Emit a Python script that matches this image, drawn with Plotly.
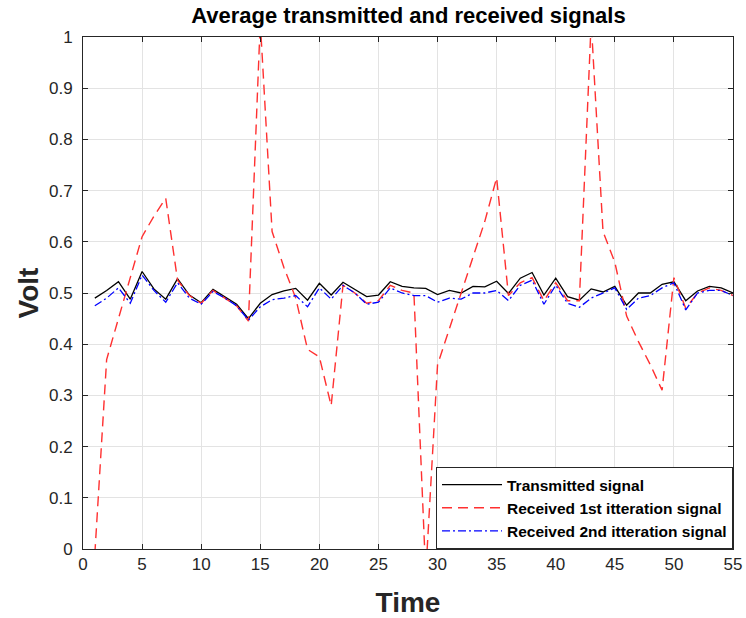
import plotly.graph_objects as go

time = list(range(1, 56))

transmitted = [0.490, 0.505, 0.522, 0.488, 0.542, 0.508, 0.488, 0.528, 0.496, 0.481,
               0.507, 0.493, 0.478, 0.450, 0.480, 0.497, 0.504, 0.509, 0.486, 0.519,
               0.496, 0.521, 0.507, 0.493, 0.496, 0.522, 0.513, 0.510, 0.509, 0.497,
               0.505, 0.500, 0.513, 0.512, 0.523, 0.499, 0.529, 0.540, 0.496, 0.529,
               0.493, 0.486, 0.508, 0.502, 0.513, 0.476, 0.500, 0.500, 0.517, 0.522,
               0.485, 0.504, 0.513, 0.510, 0.500]

received_1st = [-0.01, 0.37, 0.45, 0.53, 0.61, 0.65, 0.685, 0.525, 0.495, 0.480,
                0.505, 0.490, 0.475, 0.445, 1.03, 0.62, 0.55, 0.49, 0.39, 0.375,
                0.28, 0.515, 0.500, 0.480, 0.485, 0.515, 0.505, 0.500, -0.05, 0.36,
                0.43, 0.50, 0.57, 0.64, 0.725, 0.495, 0.520, 0.530, 0.485, 0.520,
                0.485, 0.485, 1.03, 0.62, 0.56, 0.455, 0.405, 0.36, 0.31, 0.53,
                0.47, 0.500, 0.510, 0.505, 0.495]

received_2nd = [0.475, 0.490, 0.510, 0.480, 0.535, 0.505, 0.482, 0.520, 0.490, 0.478,
                0.503, 0.490, 0.475, 0.447, 0.473, 0.487, 0.490, 0.495, 0.473, 0.510,
                0.488, 0.515, 0.500, 0.478, 0.482, 0.510, 0.500, 0.495, 0.495, 0.482,
                0.490, 0.488, 0.500, 0.500, 0.505, 0.485, 0.515, 0.525, 0.478, 0.515,
                0.480, 0.472, 0.490, 0.500, 0.510, 0.468, 0.490, 0.495, 0.510, 0.520,
                0.467, 0.500, 0.505, 0.505, 0.495]

x_ticks = list(range(0, 56, 5))
y_ticks = [round(i * 0.1, 1) for i in range(11)]

FONT = "Liberation Sans, Arial, sans-serif"
AX = "#262626"

fig = go.Figure()
fig.add_trace(go.Scatter(x=time, y=transmitted, mode="lines", name="Transmitted signal",
                         line=dict(color="black", width=1.3)))
fig.add_trace(go.Scatter(x=time, y=received_1st, mode="lines", name="Received 1st itteration signal",
                         line=dict(color="#ff3030", width=1.4, dash="10px,6px")))
fig.add_trace(go.Scatter(x=time, y=received_2nd, mode="lines", name="Received 2nd itteration signal",
                         line=dict(color="#0000ff", width=1.3, dash="8px,3px,2px,3px")))

axis_common = dict(showline=True, linecolor=AX, linewidth=1, mirror="ticks",
                   ticks="inside", ticklen=5, tickcolor=AX,
                   showgrid=True, gridcolor="#e3e3e3", gridwidth=1,
                   zeroline=False, automargin=False,
                   tickfont=dict(family=FONT, size=17, color=AX))

fig.update_xaxes(range=[0, 55], tickvals=x_ticks,
                 title=dict(text="<b>Time</b>", font=dict(family=FONT, size=28, color=AX), standoff=19),
                 **axis_common)
fig.update_yaxes(range=[0, 1], tickvals=y_ticks, ticktext=[f"{v:g}" for v in y_ticks],
                 ticklabelstandoff=6,
                 title=dict(text="<b>Volt</b>", font=dict(family=FONT, size=28, color=AX), standoff=2),
                 **axis_common)

fig.update_layout(
    width=746, height=618,
    margin=dict(l=83, r=13, t=37, b=69),
    paper_bgcolor="white", plot_bgcolor="white",
    title=dict(text="<b>Average transmitted and received signals</b>",
               font=dict(family=FONT, size=22, color="black"),
               x=0.5475, xanchor="center", y=0.976, yanchor="middle"),
    legend=dict(x=1, y=0, xanchor="right", yanchor="bottom",
                bgcolor="white", bordercolor=AX, borderwidth=1,
                font=dict(family=FONT, size=15.5, color="black", weight="bold"),
                itemwidth=60, tracegroupgap=0),
    showlegend=True,
)

fig.write_html("out.html", config={"displayModeBar": False},
               post_script="document.body.style.margin='0';")
